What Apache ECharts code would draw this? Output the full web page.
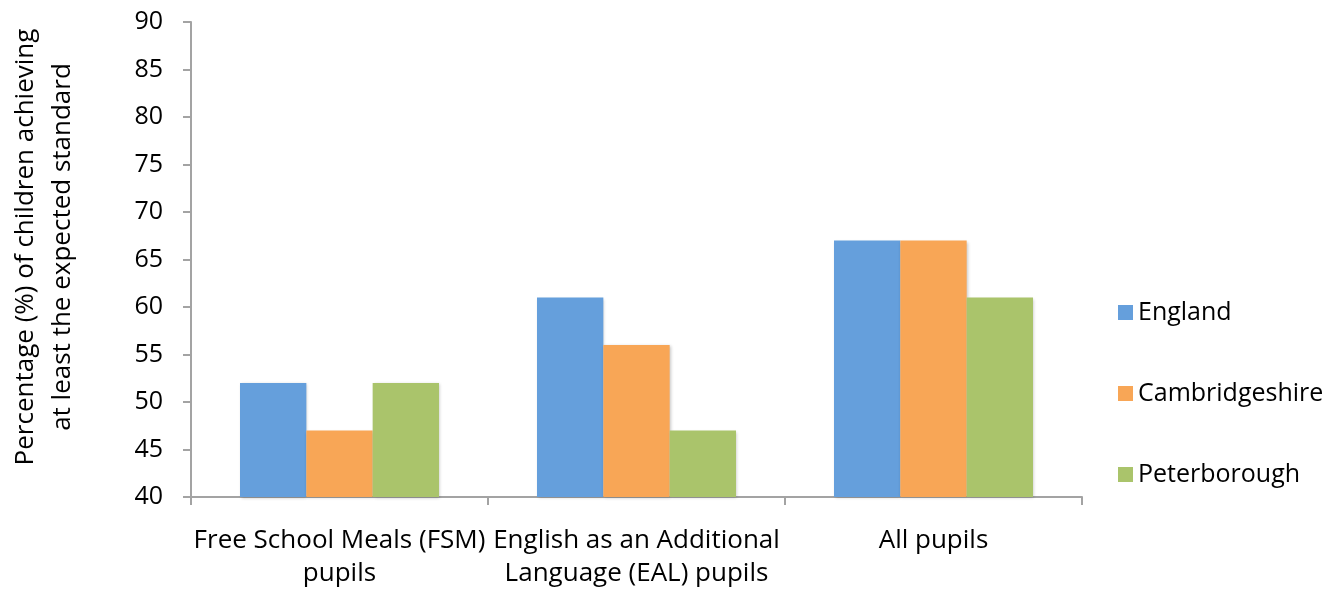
<!DOCTYPE html>
<html>
<head>
<meta charset="utf-8">
<script src="https://cdn.jsdelivr.net/npm/echarts@6/dist/echarts.min.js"></script>
<style>
  html, body { margin: 0; padding: 0; background: #fff; }
  #chart { width: 1328px; height: 590px; }
</style>
</head>
<body>
<div id="chart"></div>
<script>
// Pupil groups along the horizontal axis
const categories = [
  'Free School Meals (FSM)\npupils',
  'English as an Additional\nLanguage (EAL) pupils',
  'All pupils'
];
// Percentage of children achieving at least the expected standard
const england = [52, 61, 67];
const cambridgeshire = [47, 56, 67];
const peterborough = [52, 47, 61];

const yTicks = { min: 40, max: 90, interval: 5 };

const FONT = '"Open Sans", "Liberation Sans", sans-serif';
const AXIS_GREY = '#a3a3a3';

const chart = echarts.init(document.getElementById('chart'), null, { renderer: 'canvas' });

function barSeries(name, data, color) {
  return {
    name: name,
    type: 'bar',
    data: data,
    barGap: '0%',
    barCategoryGap: '33%',
    itemStyle: {
      color: color,
      shadowColor: 'rgba(0,0,0,0.22)',
      shadowBlur: 3,
      shadowOffsetX: 1,
      shadowOffsetY: 1
    },
    emphasis: { disabled: true }
  };
}

chart.setOption({
  animation: false,
  backgroundColor: '#ffffff',
  textStyle: { fontFamily: FONT, color: '#000' },
  grid: { left: 191, right: 246, top: 22, bottom: 86, containLabel: false },
  legend: {
    orient: 'vertical',
    left: 1113,
    top: 295,
    itemWidth: 15,
    itemHeight: 15,
    itemGap: 56,
    icon: 'rect',
    textStyle: { fontFamily: FONT, fontSize: 25, color: '#000', padding: [0, 0, 0, 0] },
    data: ['England', 'Cambridgeshire', 'Peterborough']
  },
  xAxis: {
    type: 'category',
    data: categories,
    axisLine: { show: true, lineStyle: { color: AXIS_GREY, width: 2 } },
    axisTick: { show: true, length: 8, inside: false, alignWithLabel: false,
                lineStyle: { color: AXIS_GREY, width: 2 } },
    axisLabel: { interval: 0, margin: 27, fontFamily: FONT, fontSize: 26,
                 color: '#000', lineHeight: 33, align: 'center' },
    splitLine: { show: false }
  },
  yAxis: {
    type: 'value',
    min: yTicks.min,
    max: yTicks.max,
    interval: yTicks.interval,
    axisLine: { show: true, lineStyle: { color: AXIS_GREY, width: 2 } },
    axisTick: { show: true, length: 8, inside: false, lineStyle: { color: AXIS_GREY, width: 2 } },
    axisLabel: { margin: 28, fontFamily: FONT, fontSize: 25, color: '#000' },
    splitLine: { show: false }
  },
  graphic: [{
    type: 'text',
    x: 44,
    y: 247,
    rotation: Math.PI / 2,
    style: {
      text: 'Percentage (%) of children achieving\nat least the expected standard',
      fontFamily: FONT,
      fontSize: 26,
      lineHeight: 37,
      fill: '#000',
      align: 'center',
      verticalAlign: 'middle'
    }
  }],
  series: [
    barSeries('England', england, '#659fdc'),
    barSeries('Cambridgeshire', cambridgeshire, '#f8a656'),
    barSeries('Peterborough', peterborough, '#aac46b')
  ]
});
</script>
</body>
</html>
